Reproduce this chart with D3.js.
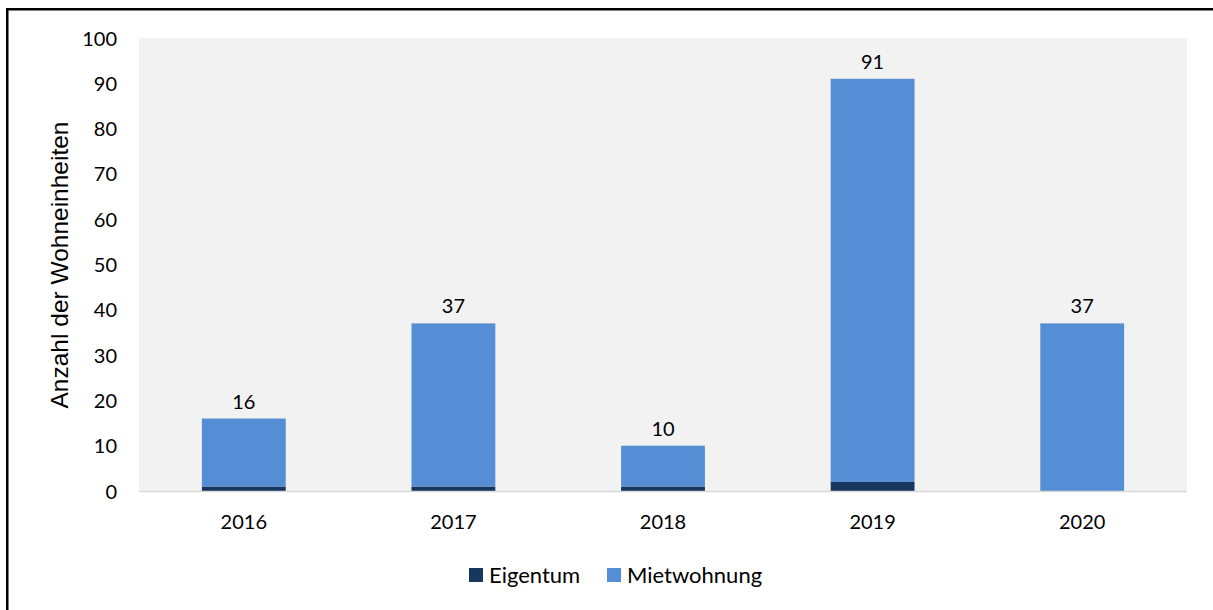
<!DOCTYPE html>
<html>
<head>
<meta charset="utf-8">
<script src="https://cdn.jsdelivr.net/npm/d3@7"></script>
<style>
  html, body { margin: 0; padding: 0; background: #fff; }
  svg { display: block; font-family: Lato, "Open Sans", sans-serif; }
</style>
</head>
<body>
<svg id="chart" width="1213" height="610"></svg>
<script>
// Genehmigte Wohneinheiten nach Art
const years = ["2016", "2017", "2018", "2019", "2020"];
const eigentum = [1, 1, 1, 2, 0];
const mietwohnung = [15, 36, 9, 89, 37];
const seriesNames = ["Eigentum", "Mietwohnung"];
const seriesColors = ["#17375e", "#558ed5"];
const yTicks = [0, 10, 20, 30, 40, 50, 60, 70, 80, 90, 100];

const svg = d3.select("#chart");
const W = 1213, H = 610;
const plot = { left: 139, right: 1187, top: 38, bottom: 491 };

// outer frame
svg.append("rect")
  .attr("x", 7.25).attr("y", 9.25)
  .attr("width", W + 20).attr("height", H + 20)
  .attr("fill", "none").attr("stroke", "#000").attr("stroke-width", 2.5);

// plot background
svg.append("rect")
  .attr("x", plot.left).attr("y", plot.top)
  .attr("width", plot.right - plot.left).attr("height", plot.bottom - plot.top)
  .attr("fill", "#f2f2f2");

const x = d3.scaleBand()
  .domain(years)
  .range([plot.left, plot.right])
  .paddingInner(0.6)
  .paddingOuter(0.3);

const y = d3.scaleLinear()
  .domain([0, 100])
  .range([plot.bottom, plot.top]);

const table = years.map((yr, i) => ({ year: yr, Eigentum: eigentum[i], Mietwohnung: mietwohnung[i] }));
const stacked = d3.stack().keys(seriesNames)(table);

svg.append("g")
  .selectAll("g")
  .data(stacked)
  .join("g")
  .attr("fill", (d, i) => seriesColors[i])
  .selectAll("rect")
  .data(d => d)
  .join("rect")
  .attr("x", d => x(d.data.year))
  .attr("width", x.bandwidth())
  .attr("y", d => y(d[1]))
  .attr("height", d => y(d[0]) - y(d[1]));

// category axis line
svg.append("line")
  .attr("x1", plot.left).attr("x2", plot.right)
  .attr("y1", plot.bottom + 0.5).attr("y2", plot.bottom + 0.5)
  .attr("stroke", "#d9d9d9").attr("stroke-width", 1.5);

// y axis labels
const yAxis = d3.axisLeft(y).tickValues(yTicks).tickSize(0).tickPadding(0);
const gy = svg.append("g")
  .attr("transform", `translate(${plot.left - 22},0)`)
  .call(yAxis);
gy.select(".domain").remove();
gy.selectAll("text")
  .attr("font-family", "Lato, sans-serif")
  .attr("font-size", 20)
  .attr("fill", "#000")
  .attr("dy", "0.35em");

// x axis labels
const xAxis = d3.axisBottom(x).tickSize(0).tickPadding(0);
const gx = svg.append("g")
  .attr("transform", `translate(0,${plot.bottom})`)
  .call(xAxis);
gx.select(".domain").remove();
gx.selectAll("text")
  .attr("font-family", "Lato, sans-serif")
  .attr("font-size", 20)
  .attr("fill", "#000")
  .attr("y", 31)
  .attr("dy", "0.35em");

// total labels above bars
svg.append("g")
  .selectAll("text")
  .data(table)
  .join("text")
  .attr("x", d => x(d.year) + x.bandwidth() / 2)
  .attr("y", d => y(d.Eigentum + d.Mietwohnung) - 10)
  .attr("text-anchor", "middle")
  .attr("font-size", 20)
  .attr("fill", "#000")
  .text(d => d.Eigentum + d.Mietwohnung);

// y axis title
svg.append("text")
  .attr("transform", "translate(59,265) rotate(-90)")
  .attr("text-anchor", "middle")
  .attr("dy", "0.35em")
  .attr("font-family", "'Liberation Sans', Arial, sans-serif")
  .attr("font-size", 24.5)
  .attr("fill", "#000")
  .text("Anzahl der Wohneinheiten");

// legend
const legendItems = [
  { name: seriesNames[0], color: seriesColors[0], x: 469 },
  { name: seriesNames[1], color: seriesColors[1], x: 607 }
];
const lg = svg.append("g").selectAll("g").data(legendItems).join("g")
  .attr("transform", d => `translate(${d.x},575)`);
lg.append("rect")
  .attr("x", 0).attr("y", -7).attr("width", 14).attr("height", 14)
  .attr("fill", d => d.color);
lg.append("text")
  .attr("x", 20).attr("dy", "0.35em")
  .attr("font-size", 22)
  .attr("fill", "#000")
  .text(d => d.name);
</script>
</body>
</html>
